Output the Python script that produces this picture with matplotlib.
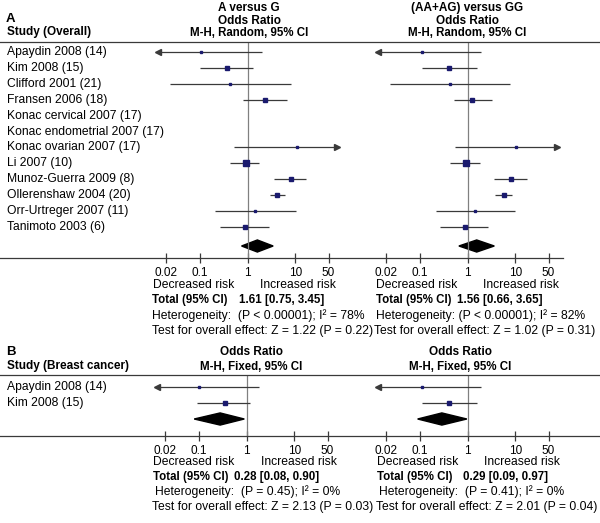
import numpy as np
import matplotlib
matplotlib.use("Agg")
import matplotlib.pyplot as plt
from matplotlib.patches import Polygon
from matplotlib.lines import Line2D

plt.rcParams['font.family'] = ['Liberation Sans', 'DejaVu Sans']

# ---------------- data ----------------
studies_overall = ["Apaydin 2008 (14)", "Kim 2008 (15)", "Clifford 2001 (21)", "Fransen 2006 (18)",
                   "Konac cervical 2007 (17)", "Konac endometrial 2007 (17)", "Konac ovarian 2007 (17)",
                   "Li 2007 (10)", "Munoz-Guerra 2009 (8)", "Ollerenshaw 2004 (20)",
                   "Orr-Urtreger 2007 (11)", "Tanimoto 2003 (6)"]
nan = np.nan
# A versus G
ag_or = [0.105, 0.37, 0.44, 2.36, nan, nan, 10.8, 0.91, 8.1, 4.2, 1.46, 0.87]
ag_lo = [0.005, 0.10, 0.024, 0.79, nan, nan, 0.51, 0.44, 3.6, 3.0, 0.21, 0.26]
ag_hi = [1.98, 1.33, 8.1, 6.7, nan, nan, 150, 1.77, 16.7, 6.1, 10.3, 2.85]
ag_w = [6, 10, 5, 10, 0, 0, 5, 16, 14, 12, 5, 8]
ag_total = (1.61, 0.75, 3.45)
# (AA+AG) versus GG
dom_or = [0.11, 0.40, 0.44, 1.27, nan, nan, 10.3, 0.91, 8.1, 5.8, 1.46, 0.87]
dom_lo = [0.005, 0.11, 0.024, 0.51, nan, nan, 0.54, 0.44, 3.6, 3.8, 0.22, 0.26]
dom_hi = [1.95, 1.61, 7.8, 3.3, nan, nan, 150, 1.86, 18, 8.5, 9.8, 2.7]
dom_w = [6, 10, 5, 10, 0, 0, 5, 16, 12, 12, 5, 9]
dom_total = (1.56, 0.66, 3.65)

studies_breast = ["Apaydin 2008 (14)", "Kim 2008 (15)"]
b_ag_or = [0.10, 0.35]
b_ag_lo = [0.005, 0.093]
b_ag_hi = [1.86, 1.2]
b_ag_w = [6, 10]
b_ag_total = (0.28, 0.08, 0.90)
b_dom_or = [0.11, 0.40]
b_dom_lo = [0.005, 0.11]
b_dom_hi = [1.95, 1.6]
b_dom_w = [6, 10]
b_dom_total = (0.29, 0.09, 0.97)

ticks = [0.02, 0.1, 1, 10, 50]
tick_labels = ["0.02", "0.1", "1", "10", "50"]

# ---------------- layout helpers ----------------
W, H = 600, 523
fig = plt.figure(figsize=(6, 5.23), dpi=100)
FS = 8.7      # regular text
FSH = 8.5     # bold headers
FST = 8.3     # bold totals
LINE_C = '#3a3a3a'
SQ_C = '#1a1a6e'
XMIN, XMAX = 0.0125, 80
PPD = 47.7  # pixels per decade


def fx(x):
    return x / W


def fy(y):
    return 1 - y / H


def txt(x, y, s, **kw):
    kw.setdefault('fontsize', FS)
    fig.text(fx(x), fy(y), s, va='center', **kw)


def hline(x0, x1, y, c=LINE_C, lw=0.9):
    fig.add_artist(Line2D([fx(x0), fx(x1)], [fy(y), fy(y)], color=c, lw=lw,
                          transform=fig.transFigure))


def make_axes(x_one, y_top, y_bot, ylim):
    x0 = x_one + PPD * np.log10(XMIN)
    x1 = x_one + PPD * np.log10(XMAX)
    ax = fig.add_axes([fx(x0), fy(y_bot), (x1 - x0) / W, (y_bot - y_top) / H])
    ax.set_xscale('log')
    ax.set_xlim(XMIN, XMAX)
    ax.set_ylim(*ylim)
    for s in ax.spines.values():
        s.set_visible(False)
    ax.patch.set_alpha(0)
    ax.set_yticks([])
    ax.set_xticks(ticks)
    ax.set_xticklabels(tick_labels, fontsize=FS - 0.2)
    ax.minorticks_off()
    ax.tick_params(axis='x', direction='inout', length=7, width=0.9, color=LINE_C, pad=3)
    ax.axvline(1, color='#808080', lw=0.9)
    return ax


def draw_forest(ax, ors, los, his, ws, total, ypos, ytot):
    for o, lo, hi, w, y in zip(ors, los, his, ws, ypos):
        if np.isnan(o):
            continue
        l = max(lo, XMIN)
        h = min(hi, XMAX)
        ax.plot([l, h], [y, y], color=LINE_C, lw=0.9, solid_capstyle='butt')
        if lo < XMIN:
            ax.plot([XMIN * 1.04], [y], marker='<', ms=4.5, color=LINE_C, clip_on=False)
        if hi > XMAX:
            ax.plot([XMAX / 1.04], [y], marker='>', ms=4.5, color=LINE_C, clip_on=False)
        size_px = 1.5 + w * 0.22
        ax.plot([o], [y], marker='s', ms=size_px * 0.72, color=SQ_C, mec=SQ_C, lw=0)
    est, lo, hi = total
    hh = 0.38
    ax.add_patch(Polygon([[lo, ytot], [est, ytot - hh], [hi, ytot], [est, ytot + hh]],
                         closed=True, color='black'))


# ---------------- Panel A ----------------
txt(6, 19, "A", fontsize=9.5, fontweight='bold')
txt(7, 32, "Study (Overall)", fontsize=FSH, fontweight='bold')
for cx, title in [(249, "A versus G"), (467, "(AA+AG) versus GG")]:
    txt(cx, 8, title, ha='center', fontsize=FSH, fontweight='bold')
    txt(cx, 21, "Odds Ratio", ha='center', fontsize=FSH, fontweight='bold')
    txt(cx, 33, "M-H, Random, 95% CI", ha='center', fontsize=FSH - 0.2, fontweight='bold')

hline(0, 600, 42)
hline(0, 563, 258)

row_px = 15.9
ypos_A = list(range(len(studies_overall)))
for i, s in enumerate(studies_overall):
    txt(7, 52 + row_px * i, s)
ylimA = ((258 - 52) / row_px, (42 - 52) / row_px)
ytotA = (246 - 52) / row_px

axA1 = make_axes(247.5, 42, 258, ylimA)
draw_forest(axA1, ag_or, ag_lo, ag_hi, ag_w, ag_total, ypos_A, ytotA)
axA2 = make_axes(467.5, 42, 258, ylimA)
draw_forest(axA2, dom_or, dom_lo, dom_hi, dom_w, dom_total, ypos_A, ytotA)

# texts under A
txt(153, 285, "Decreased risk")
txt(260, 285, "Increased risk")
txt(376, 285, "Decreased risk")
txt(483, 285, "Increased risk")
txt(152, 300, "Total (95% CI)", fontsize=FST, fontweight='bold')
txt(239, 300, "%.2f [%.2f, %.2f]" % ag_total, fontsize=FST, fontweight='bold')
txt(376, 300, "Total (95% CI)", fontsize=FST, fontweight='bold')
txt(457, 300, "%.2f [%.2f, %.2f]" % dom_total, fontsize=FST, fontweight='bold')
txt(152, 316, "Heterogeneity:  (P < 0.00001); I² = 78%")
txt(376, 316, "Heterogeneity: (P < 0.00001); I² = 82%")
txt(152, 331, "Test for overall effect: Z = 1.22 (P = 0.22)")
txt(374, 331, "Test for overall effect: Z = 1.02 (P = 0.31)")

# ---------------- Panel B ----------------
txt(6, 352, "B", fontsize=9.5, fontweight='bold')
txt(7, 366, "Study (Breast cancer)", fontsize=FSH, fontweight='bold')
for cx in (251, 460):
    txt(cx, 352, "Odds Ratio", ha='center', fontsize=FSH, fontweight='bold')
    txt(cx, 367, "M-H, Fixed, 95% CI", ha='center', fontsize=FSH - 0.2, fontweight='bold')

hline(0, 600, 375)
hline(0, 600, 436)

row_pxB = 16
ypos_B = list(range(len(studies_breast)))
for i, s in enumerate(studies_breast):
    txt(7, 387 + row_pxB * i, s)
ylimB = ((436 - 387) / row_pxB, (375 - 387) / row_pxB)
ytotB = (419 - 387) / row_pxB

axB1 = make_axes(246.5, 375, 436, ylimB)
draw_forest(axB1, b_ag_or, b_ag_lo, b_ag_hi, b_ag_w, b_ag_total, ypos_B, ytotB)
axB2 = make_axes(467.5, 375, 436, ylimB)
draw_forest(axB2, b_dom_or, b_dom_lo, b_dom_hi, b_dom_w, b_dom_total, ypos_B, ytotB)

txt(153, 462, "Decreased risk")
txt(261, 462, "Increased risk")
txt(377, 462, "Decreased risk")
txt(484, 462, "Increased risk")
txt(153, 477, "Total (95% CI)", fontsize=FST, fontweight='bold')
txt(234, 477, "%.2f [%.2f, %.2f]" % b_ag_total, fontsize=FST, fontweight='bold')
txt(377, 477, "Total (95% CI)", fontsize=FST, fontweight='bold')
txt(463, 477, "%.2f [%.2f, %.2f]" % b_dom_total, fontsize=FST, fontweight='bold')
txt(155, 492, "Heterogeneity:  (P = 0.45); I² = 0%")
txt(379, 492, "Heterogeneity:  (P = 0.41); I² = 0%")
txt(152, 507, "Test for overall effect: Z = 2.13 (P = 0.03)")
txt(376, 507, "Test for overall effect: Z = 2.01 (P = 0.04)")

fig.savefig("out.png", dpi=100)
